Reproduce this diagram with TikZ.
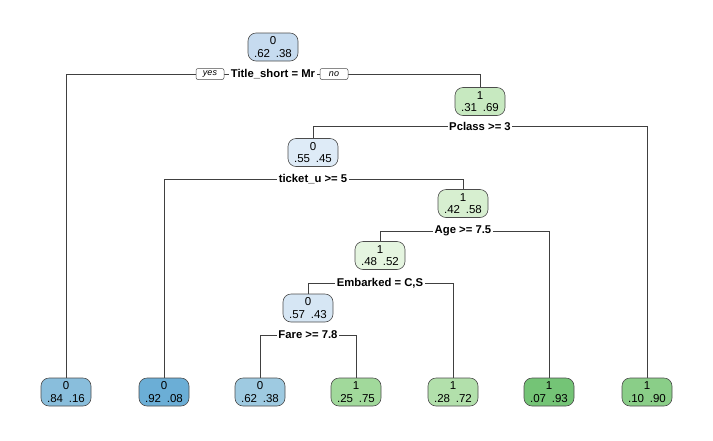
\documentclass[tikz,border=0pt]{standalone}
\usepackage{fontspec}
\setmainfont{Liberation Sans}
\pgfdeclarelayer{bg}
\pgfsetlayers{bg,main}
\begin{document}
\begin{tikzpicture}[x=1pt,y=-1pt,
  tnode/.style={draw=black!70,line width=0.6pt,rounded corners=8pt,minimum width=50pt,minimum height=28pt,inner sep=0pt,align=center,font=\fontsize{11.5}{12.5}\selectfont},
  split/.style={fill=white,inner sep=1.5pt,font=\fontsize{11.3}{12}\selectfont\bfseries},
  yn/.style={draw=black!70,line width=0.5pt,fill=white,rounded corners=2pt,inner sep=1.2pt,minimum width=28pt,minimum height=11pt,font=\fontsize{9}{10}\selectfont\itshape},
  edge/.style={draw=black!75,line width=0.6pt}]
\useasboundingbox (0,0) rectangle (713,440);
% inner nodes
\node[tnode,fill={rgb,255:red,198;green,219;blue,239}] (n1) at (273,47) {0\\.62\enspace.38};
\node[tnode,fill={rgb,255:red,199;green,233;blue,192}] (n2) at (480,101.5) {1\\.31\enspace.69};
\node[tnode,fill={rgb,255:red,222;green,235;blue,247}] (n3) at (313,152.5) {0\\.55\enspace.45};
\node[tnode,fill={rgb,255:red,215;green,239;blue,208}] (n4) at (463,203.5) {1\\.42\enspace.58};
\node[tnode,fill={rgb,255:red,229;green,245;blue,224}] (n5) at (380,255.5) {1\\.48\enspace.52};
\node[tnode,fill={rgb,255:red,214;green,230;blue,244}] (n6) at (308,308) {0\\.57\enspace.43};
% leaves
\node[tnode,fill={rgb,255:red,137;green,190;blue,220}] (l1) at (66,392) {0\\.84\enspace.16};
\node[tnode,fill={rgb,255:red,107;green,174;blue,214}] (l2) at (164,392) {0\\.92\enspace.08};
\node[tnode,fill={rgb,255:red,158;green,202;blue,225}] (l3) at (260,392) {0\\.62\enspace.38};
\node[tnode,fill={rgb,255:red,161;green,217;blue,155}] (l4) at (356,392) {1\\.25\enspace.75};
\node[tnode,fill={rgb,255:red,178;green,224;blue,171}] (l5) at (453,392) {1\\.28\enspace.72};
\node[tnode,fill={rgb,255:red,116;green,196;blue,118}] (l6) at (549,392) {1\\.07\enspace.93};
\node[tnode,fill={rgb,255:red,138;green,206;blue,136}] (l7) at (647,392) {1\\.10\enspace.90};
% split labels
\node[split] (s1) at (273,74) {Title\_short = Mr};
\node[yn] (yes) at (210,74) {yes};
\node[yn] (no) at (334,74) {no};
\node[split] (s2) at (480,126) {Pclass >= 3};
\node[split] (s3) at (313,179) {ticket\_u >= 5};
\node[split] (s4) at (463,231) {Age >= 7.5};
\node[split] (s5) at (380,283) {Embarked = C,S};
\node[split] (s6) at (308,335) {Fare >= 7.8};
\begin{pgfonlayer}{bg}
\draw[edge] (s1) -| (l1.north);
\draw[edge] (s1) -| (n2.north);
\draw[edge] (s2) -| (n3.north);
\draw[edge] (s2) -| (l7.north);
\draw[edge] (s3) -| (l2.north);
\draw[edge] (s3) -| (n4.north);
\draw[edge] (s4) -| (n5.north);
\draw[edge] (s4) -| (l6.north);
\draw[edge] (s5) -| (n6.north);
\draw[edge] (s5) -| (l5.north);
\draw[edge] (s6) -| (l3.north);
\draw[edge] (s6) -| (l4.north);
\end{pgfonlayer}
\end{tikzpicture}
\end{document}
